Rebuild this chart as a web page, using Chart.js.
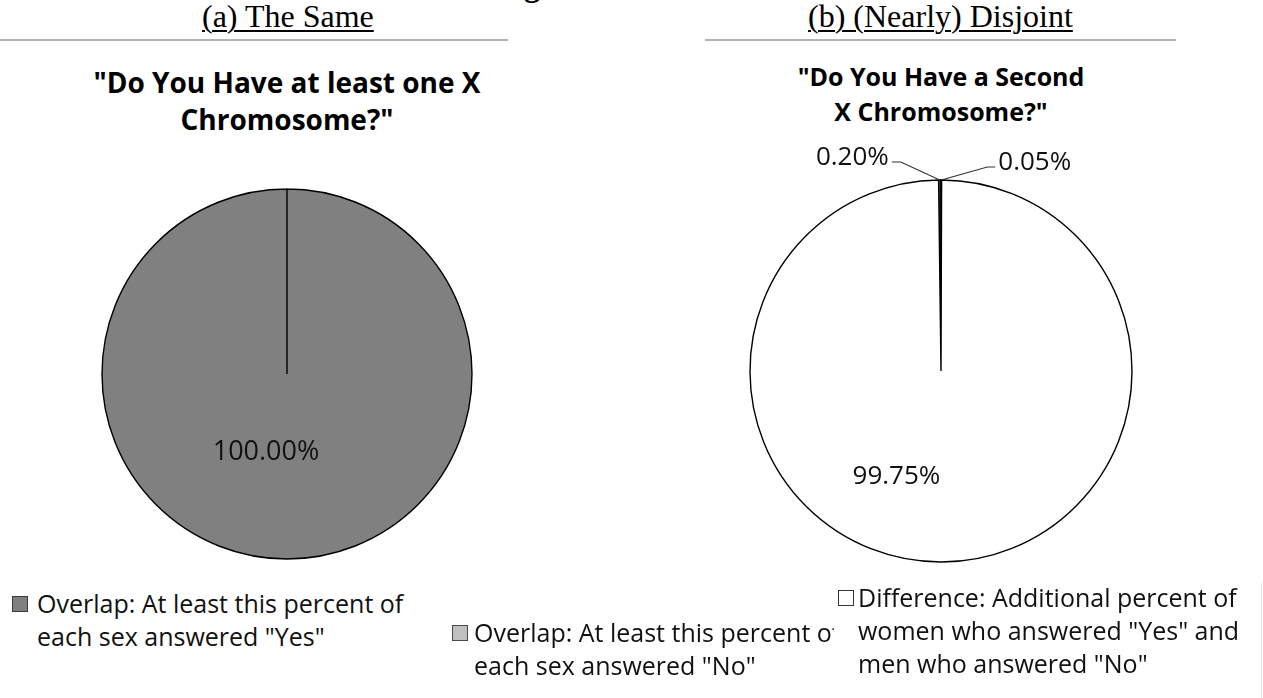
<!DOCTYPE html>
<html>
<head>
<meta charset="utf-8">
<script src="https://cdn.jsdelivr.net/npm/chart.js@4.4.1/dist/chart.umd.min.js"></script>
<style>
  html, body { margin: 0; padding: 0; background: #fff; }
  #page { position: relative; width: 1263px; height: 698px; overflow: hidden; background: #fff; }
  .cap { position: absolute; top: 0; font-family: "Liberation Serif", "Times New Roman", serif; font-size: 32px; line-height: 32px; color: #000; text-decoration: underline; text-decoration-thickness: 2px; text-underline-offset: 3px; white-space: nowrap; }
  .rule { position: absolute; top: 39px; height: 2px; background: #b4b4b4; }
  .frag { position: absolute; top: -31px; left: 524px; font-family: "Liberation Serif", serif; font-weight: bold; font-size: 32px; line-height: 32px; }
  .ttl { position: absolute; font-family: "Open Sans", sans-serif; font-weight: bold; text-align: center; color: #000; white-space: nowrap; }
  canvas { position: absolute; }
  .lg { position: absolute; font-family: "Open Sans", sans-serif; font-size: 25px; line-height: 33px; color: #111; white-space: nowrap; overflow: hidden; height: 110px; }
  .lg .box { position: absolute; left: 0; top: 9px; width: 14px; height: 14px; border: 1px solid #333; }
  .lg .txt { position: absolute; top: 0; }
  .edge { position: absolute; left: 1261px; top: 583px; width: 1px; height: 115px; background: #e2e2e2; }
</style>
</head>
<body>
<div id="page">
  <div class="frag">g</div>
  <div class="cap" style="left:202px">(a) The Same</div>
  <div class="rule" style="left:0; width:508px"></div>
  <div class="cap" style="left:808px">(b) (Nearly) Disjoint</div>
  <div class="rule" style="left:705px; width:471px"></div>

  <div class="ttl" id="titleA" style="left:87px; width:400px; top:64px; font-size:28px; line-height:37px"></div>
  <div class="ttl" id="titleB" style="left:741px; width:400px; top:59px; font-size:25px; line-height:35px"></div>

  <canvas id="pieA" width="400" height="400" style="left:87px; top:174px"></canvas>
  <canvas id="pieB" width="500" height="500" style="left:691px; top:121px"></canvas>

  <div id="legend"></div>
  <div class="edge"></div>
</div>
<script>
// Series shared by both pies
const categories = [
  'Overlap: At least this percent of each sex answered "Yes"',
  'Overlap: At least this percent of each sex answered "No"',
  'Difference: Additional percent of women who answered "Yes" and men who answered "No"'
];
const sliceColors = ['#808080', '#c0c0c0', '#ffffff'];
const legendBorders = ['#3a3a3a', '#4a4a4a', '#333333'];

// (a) "Do You Have at least one X Chromosome?"
const titleA = ['"Do You Have at least one X', 'Chromosome?"'];
const valuesA = [100, 0, 0];

// (b) "Do You Have a Second X Chromosome?"
const titleB = ['"Do You Have a Second', 'X Chromosome?"'];
const valuesB = [0.20, 0.05, 99.75];

// legend text, broken into the lines that are drawn
const legendLines = [
  ['Overlap: At least this percent of', 'each sex answered "Yes"'],
  ['Overlap: At least this percent of', 'each sex answered "No"'],
  ['Difference: Additional percent of', 'women who answered "Yes" and', 'men who answered "No"']
];

document.getElementById('titleA').innerHTML = titleA.join('<br>');
document.getElementById('titleB').innerHTML = titleB.join('<br>');

// Percent labels: large slices get an inside label, thin slices a callout with a leader line
const percentLabels = {
  id: 'percentLabels',
  afterDatasetsDraw(chart, args, opts) {
    const ctx = chart.ctx;
    const meta = chart.getDatasetMeta(0);
    const values = chart.data.datasets[0].data;
    ctx.save();
    ctx.font = opts.font;
    ctx.fillStyle = '#111';
    ctx.textBaseline = 'middle';
    meta.data.forEach((arc, i) => {
      const v = values[i];
      if (!v) return;
      const text = v.toFixed(2) + '%';
      const p = arc.getProps(['x', 'y', 'startAngle', 'endAngle', 'outerRadius'], true);
      const mid = (p.startAngle + p.endAngle) / 2;
      const co = (opts.callouts || {})[i];
      if (co) {
        const ex = p.x + Math.cos(mid) * p.outerRadius;
        const ey = p.y + Math.sin(mid) * p.outerRadius;
        const kx = ex + co.dx, ky = ey + co.dy;
        const hx = kx + co.dir * co.tail;
        ctx.strokeStyle = '#333';
        ctx.lineWidth = 1.2;
        ctx.beginPath();
        ctx.moveTo(ex, ey); ctx.lineTo(kx, ky); ctx.lineTo(hx, ky);
        ctx.stroke();
        ctx.textAlign = co.dir < 0 ? 'right' : 'left';
        ctx.fillText(text, hx + co.dir * 3, ky - 4);
      } else {
        const r = p.outerRadius * 0.5;
        ctx.textAlign = 'center';
        ctx.fillText(text, p.x + Math.cos(mid) * r + opts.inside.dx, p.y + Math.sin(mid) * r + opts.inside.dy);
      }
    });
    ctx.restore();
  }
};

function makePie(id, values, radius, rotation, labelOpts) {
  return new Chart(document.getElementById(id), {
    type: 'pie',
    data: {
      labels: categories,
      datasets: [{
        data: values,
        backgroundColor: sliceColors,
        borderColor: '#000',
        borderWidth: 1.4,
        borderJoinStyle: 'miter',
        radius: radius
      }]
    },
    options: {
      responsive: false,
      animation: false,
      rotation: rotation,
      layout: { padding: 0 },
      plugins: {
        legend: { display: false },
        tooltip: { enabled: false },
        title: { display: false },
        percentLabels: labelOpts
      }
    },
    plugins: [percentLabels]
  });
}

makePie('pieA', valuesA, 185, 0, {
  font: '27px "Open Sans", sans-serif',
  inside: { dx: -21, dy: -14 }
});

// the first thin slice ends exactly at twelve o'clock
const rotB = -valuesB[0] / 100 * 360;
makePie('pieB', valuesB, 191, rotB, {
  font: '26px "Open Sans", sans-serif',
  inside: { dx: -45, dy: 10 },
  callouts: {
    0: { dx: -39, dy: -18, dir: -1, tail: 9 },
    1: { dx: 46, dy: -13, dir: 1, tail: 8 }
  }
});

// legend items spread along the bottom; the middle one is clipped on its right
const legendPos = [
  { left: 12, top: 587, width: 420, textLeft: 25 },
  { left: 452, top: 616, width: 382, textLeft: 22 },
  { left: 838, top: 581, width: 420, textLeft: 20 }
];
const lg = document.getElementById('legend');
legendLines.forEach((lines, i) => {
  const pos = legendPos[i];
  const d = document.createElement('div');
  d.className = 'lg';
  d.style.left = pos.left + 'px';
  d.style.top = pos.top + 'px';
  d.style.width = pos.width + 'px';
  d.innerHTML = '<div class="box" style="background:' + sliceColors[i] + ';border-color:' + legendBorders[i] + '"></div>' +
    '<div class="txt" style="left:' + pos.textLeft + 'px">' + lines.join('<br>') + '</div>';
  d.title = categories[i];
  lg.appendChild(d);
});
</script>
</body>
</html>
